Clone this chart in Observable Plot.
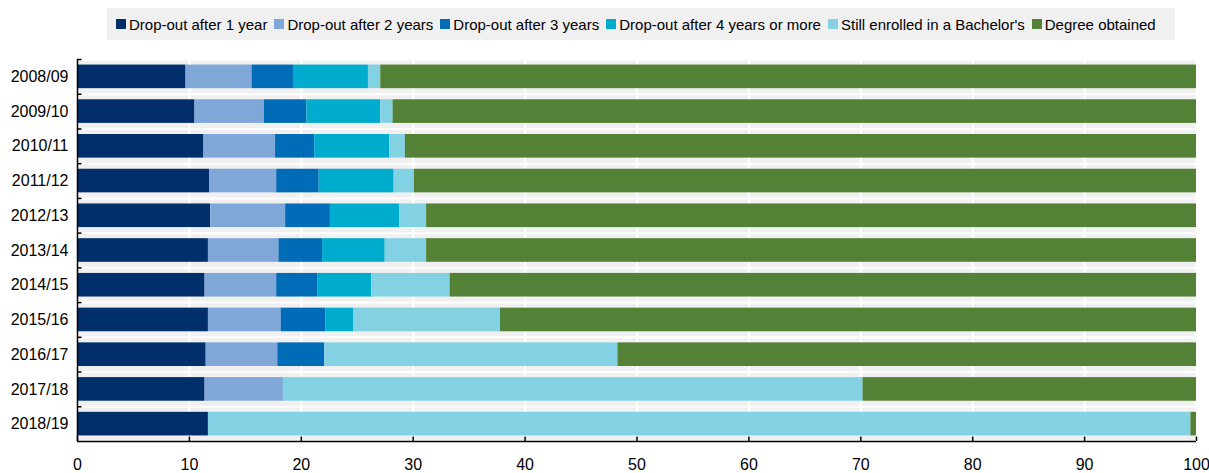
<!DOCTYPE html>
<html><head><meta charset="utf-8">
<script src="https://cdn.jsdelivr.net/npm/d3@7"></script>
<script src="https://cdn.jsdelivr.net/npm/@observablehq/plot@0.6"></script>
<style>
body{margin:0;background:#fff;font-family:"Liberation Sans",Arial,sans-serif;}
#legend{position:absolute;left:107px;top:8px;width:1068px;height:32px;background:#f0f0f0;display:flex;align-items:center;padding-left:9px;box-sizing:border-box;font-size:15px;color:#000;}
.item{display:flex;align-items:center;margin-right:7px;white-space:nowrap}
.sw{width:10px;height:10px;margin-right:3px;display:inline-block}
#chart{position:absolute;left:0;top:40px}
</style></head><body>
<div id="legend"></div><div id="chart"></div>
<script>
const years = ["2008/09","2009/10","2010/11","2011/12","2012/13","2013/14","2014/15","2015/16","2016/17","2017/18","2018/19"];
const seriesNames = ["Drop-out after 1 year","Drop-out after 2 years","Drop-out after 3 years","Drop-out after 4 years or more","Still enrolled in a Bachelor's","Degree obtained"];
const seriesColors = ["#002F6C","#7FA8D9","#006BB6","#00ACCE","#83D2E4","#538135"];
const dropout1 = [9.7,10.5,11.3,11.8,11.9,11.7,11.4,11.7,11.5,11.4,11.7];
const dropout2 = [5.9,6.2,6.4,6.0,6.7,6.3,6.4,6.5,6.4,7.0,0];
const dropout3 = [3.7,3.8,3.5,3.8,4.0,3.9,3.7,4.0,4.2,0,0];
const dropout4 = [6.7,6.6,6.7,6.7,6.2,5.6,4.8,2.5,0,0,0];
const enrolled = [1.1,1.1,1.4,1.8,2.4,3.7,7.0,13.1,26.2,51.8,87.8];
const degree   = [72.9,71.8,70.7,69.9,68.8,68.8,66.7,62.2,51.7,29.8,0.5];
const xTicks = [0,10,20,30,40,50,60,70,80,90,100];

const seriesValues = [dropout1,dropout2,dropout3,dropout4,enrolled,degree];
const rows = [];
years.forEach((yr,i)=>{
  let acc = 0;
  seriesValues.forEach((vals,s)=>{
    const v = vals[i];
    rows.push({year:yr, idx:i, series:seriesNames[s], x1:acc, x2:acc+v});
    acc += v;
  });
});
const boundaries = d3.range(0, years.length + 1);

// legend
const leg = document.getElementById("legend");
seriesNames.forEach((n,i)=>{
  const it = document.createElement("span"); it.className="item";
  const sw = document.createElement("span"); sw.className="sw"; sw.style.background = seriesColors[i];
  it.appendChild(sw); it.appendChild(document.createTextNode(n));
  leg.appendChild(it);
});

const font = '"Liberation Sans", Arial, sans-serif';
const chart = Plot.plot({
  width: 1209, height: 433,
  marginLeft: 77, marginRight: 13, marginTop: 19, marginBottom: 32,
  style: {fontFamily: font, fontSize: "16px", background: "#fff"},
  x: {domain: [0,100], axis: null},
  y: {domain: [0, years.length], reverse: true, axis: null},
  color: {domain: seriesNames, range: seriesColors},
  marks: [
    Plot.rect([0], {x1: 0, x2: 100, y1: 0, y2: years.length, fill: "#f0f0f0"}),
    Plot.ruleX(xTicks, {x: d=>d, y1: 0, y2: years.length, stroke: "white", strokeWidth: 2}),
    Plot.ruleY(boundaries, {y: d=>d, x1: 0, x2: 100, stroke: "white", strokeWidth: 2}),
    Plot.rect(rows, {x1: "x1", x2: "x2", y1: d=>d.idx+0.16, y2: d=>d.idx+0.84, fill: "series"}),
    Plot.ruleY(boundaries.slice(0,-1), {y: d=>d, x1: 0, x2: 0.4, stroke: "black", strokeWidth: 1.5}),
    Plot.ruleX(xTicks, {x: d=>d, y1: years.length, y2: years.length - 0.13, stroke: "black", strokeWidth: 1.5}),
    Plot.ruleX([0], {y1: 0, y2: years.length, stroke: "black", strokeWidth: 1.5}),
    Plot.ruleY([years.length], {x1: 0, x2: 100, stroke: "black", strokeWidth: 1.5}),
    Plot.text(years, {x: 0, y: (d,i)=>i+0.5, text: d=>d, textAnchor: "end", dx: -9, fill: "#000", fontSize: 16}),
    Plot.text(xTicks, {x: d=>d, y: years.length, dy: 23, text: d=>String(d), fill: "#000", fontSize: 16})
  ]
});
document.getElementById("chart").appendChild(chart);
</script>
</body></html>
